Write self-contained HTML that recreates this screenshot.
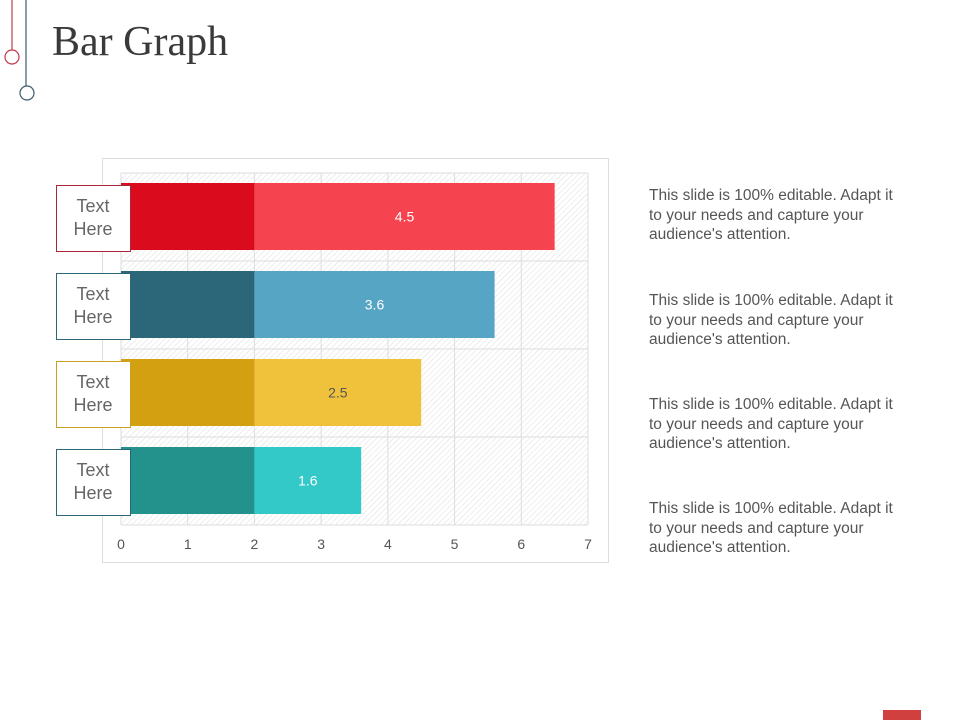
<!DOCTYPE html>
<html><head><meta charset="utf-8"><style>
body{margin:0;width:960px;height:720px;background:#fff;overflow:hidden;position:relative;font-family:"Liberation Sans",sans-serif}
.title{position:absolute;left:52px;top:18px;font-family:"Liberation Serif",serif;font-size:42px;color:#3a3a3a}
.desc{position:absolute;left:649px;width:244px;font-size:15.5px;line-height:19.5px;color:#555}
</style></head><body>
<svg width="960" height="720" style="position:absolute;left:0;top:0">
<line x1="12" y1="0" x2="12" y2="50" stroke="#c0394a" stroke-width="1.2"/>
<circle cx="12" cy="57" r="7" fill="none" stroke="#c0394a" stroke-width="1.2"/>
<line x1="26" y1="0" x2="26" y2="86" stroke="#3d5a6e" stroke-width="1.2"/>
<circle cx="27" cy="93" r="7" fill="none" stroke="#3d5a6e" stroke-width="1.2"/>
<rect x="883" y="710" width="38" height="10" fill="#d0403e"/>
</svg>
<div class="title">Bar Graph</div>
<svg id="chart" width="960" height="720" style="position:absolute;left:0;top:0">
<defs><pattern id="hatch" width="4" height="4" patternUnits="userSpaceOnUse" patternTransform="rotate(45)"><line x1="0" y1="0" x2="0" y2="4" stroke="#ddd" stroke-width="1"/></pattern></defs>
<rect x="102.5" y="158.5" width="506" height="404" fill="#fff" stroke="#ddd"/>
</svg>
<div class="desc" style="top:186px">This slide is 100% editable. Adapt it to your needs and capture your audience's attention.</div>
<div class="desc" style="top:291px">This slide is 100% editable. Adapt it to your needs and capture your audience's attention.</div>
<div class="desc" style="top:395px">This slide is 100% editable. Adapt it to your needs and capture your audience's attention.</div>
<div class="desc" style="top:499px">This slide is 100% editable. Adapt it to your needs and capture your audience's attention.</div>
<script>
const categories=["Text Here","Text Here","Text Here","Text Here"];
const baseValues=[2,2,2,2];
const values=[4.5,3.6,2.5,1.6];
const ticks=[0,1,2,3,4,5,6,7];
const darkColors=["#d90b1c","#2c6679","#d3a011","#23918c"];
const lightColors=["#f5434f","#56a5c4","#f0c23c","#33c9c8"];
const borderColors=["#a8283a","#2c6679","#c9a020","#2c6679"];
const NS="http://www.w3.org/2000/svg";
const svg=document.getElementById('chart');
const x0=121,x1=588,yTop=173,yBot=525;
const xs=v=>x0+(v-ticks[0])/(ticks[ticks.length-1]-ticks[0])*(x1-x0);
const band=(yBot-yTop)/categories.length;
function mk(t,a){const e=document.createElementNS(NS,t);for(const k in a)e.setAttribute(k,a[k]);svg.appendChild(e);return e;}
const bg=mk('rect',{x:x0,y:yTop,width:x1-x0,height:yBot-yTop,fill:'url(#hatch)'});


ticks.forEach(t=>{
 const l=mk('line',{x1:xs(t),x2:xs(t),y1:yTop,y2:yBot,stroke:'#ddd'});
 
 
 const tx=mk('text',{x:xs(t),y:549,'text-anchor':'middle','font-size':14,fill:'#555'});
 tx.textContent=t;
 
 
});
for(let i=0;i<=categories.length;i++){
 const l=mk('line',{x1:x0,x2:x1,y1:yTop+i*band,y2:yTop+i*band,stroke:'#ddd'});
 
 
}
categories.forEach((c,i)=>{
 const y=yTop+i*band+10,h=band-21;
 const b1=mk('rect',{x:xs(0),y:y,width:xs(baseValues[i])-xs(0),height:h,fill:darkColors[i]});
 
 
 const b2=mk('rect',{x:xs(baseValues[i]),y:y,width:xs(baseValues[i]+values[i])-xs(baseValues[i]),height:h,fill:lightColors[i]});
 
 
 const vt=mk('text',{x:(xs(baseValues[i])+xs(baseValues[i]+values[i]))/2,y:y+h/2+5,'text-anchor':'middle','font-size':14,fill:i==2?'#555':'#fff'});
 vt.textContent=values[i];
 
 
 const bx=mk('rect',{x:56.5,y:y+2.5,width:74,height:66,fill:'#fff',stroke:borderColors[i]});
 
 
 const words=c.split(' ');
 words.forEach((w,j)=>{
  const t=mk('text',{x:93,y:y+29+j*23,'text-anchor':'middle','font-size':18,fill:'#666'});
  t.textContent=w;
  
  
 });
});
</script>
</body></html>
